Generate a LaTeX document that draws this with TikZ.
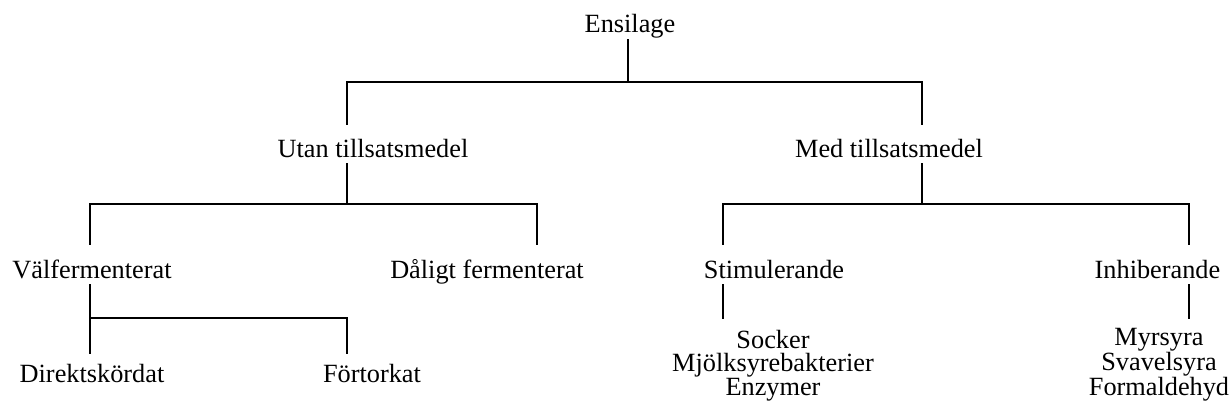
\documentclass[tikz,border=0pt]{standalone}
\usepackage{fontspec}
\setmainfont{Liberation Serif}
\begin{document}
\begin{tikzpicture}[x=1pt,y=-1pt,
  lbl/.style={anchor=base,inner sep=0pt,font=\fontsize{26.3}{23.5}\selectfont},
  lst/.style={lbl,align=center},
  con/.style={line width=2.6pt,line cap=rect}]
\useasboundingbox (0,0) rectangle (1232,420);
% text nodes
\node[lbl] (ens)   at (630,33)  {Ensilage};
\node[lbl] (utan)  at (373,157) {Utan tillsatsmedel};
\node[lbl] (med)   at (889,157) {Med tillsatsmedel};
\node[lbl] (valf)  at (92,278)  {Välfermenterat};
\node[lbl] (dalig) at (487,278) {Dåligt fermenterat};
\node[lbl] (stim)  at (774,278) {Stimulerande};
\node[lbl] (inh)   at (1157.5,278) {Inhiberande};
\node[lbl] (dir)   at (92,382)  {Direktskördat};
\node[lbl] (fort)  at (372,382) {Förtorkat};
% multi-line nodes: base anchor is the baseline of the last line
\node[lst] (stimlist) at (773,395) {Socker\\Mjölksyrebakterier\\Enzymer};
\node[lst] (inhlist)  at (1159,395) {Myrsyra\\Svavelsyra\\Formaldehyd};
% connector points
\coordinate (ensB) at (628,40);
\coordinate (j0) at (628,82);
\coordinate (utanT) at (347,124);
\coordinate (medT) at (922,124);
\coordinate (utanB) at (347,164);
\coordinate (j1) at (347,204);
\coordinate (valfT) at (90,244);
\coordinate (daligT) at (537,244);
\coordinate (medB) at (922,164);
\coordinate (j2) at (922,204);
\coordinate (stimT) at (723,244);
\coordinate (inhT) at (1189,244);
\coordinate (valfB) at (90,285);
\coordinate (j3) at (90,318);
\coordinate (dirT) at (90,353);
\coordinate (fortT) at (347,353);
\coordinate (stimB) at (723,285);
\coordinate (stimlistT) at (723,318);
\coordinate (inhB) at (1189,285);
\coordinate (inhlistT) at (1189,318);
% connectors
\draw[con] (ensB) -- (j0);
\draw[con] (j0) -| (utanT);
\draw[con] (j0) -| (medT);
\draw[con] (utanB) -- (j1);
\draw[con] (j1) -| (valfT);
\draw[con] (j1) -| (daligT);
\draw[con] (medB) -- (j2);
\draw[con] (j2) -| (stimT);
\draw[con] (j2) -| (inhT);
\draw[con] (valfB) -- (dirT);
\draw[con] (j3) -| (fortT);
\draw[con] (stimB) -- (stimlistT);
\draw[con] (inhB) -- (inhlistT);
\end{tikzpicture}
\end{document}
